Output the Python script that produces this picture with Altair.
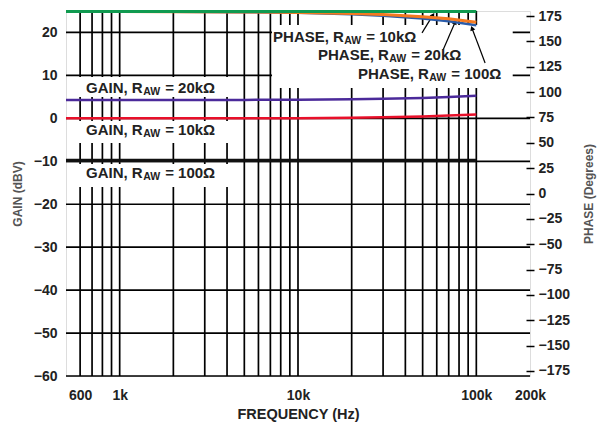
import altair as alt
import pandas as pd

# ---------------- data ----------------
freq_hz = [500, 1000, 2000, 5000, 10000, 20000, 30000, 50000, 70000, 100000]
gain_20k = [4.3, 4.3, 4.3, 4.3, 4.35, 4.45, 4.55, 4.75, 4.95, 5.25]
gain_10k = [0.0, 0.0, 0.0, 0.0, 0.05, 0.15, 0.25, 0.45, 0.65, 0.9]
gain_100 = [-9.8, -9.8, -9.8, -9.8, -9.8, -9.8, -9.8, -9.8, -9.8, -9.8]
phase_100 = [179.4, 179.4, 179.4, 179.4, 179.4, 179.4, 179.4, 179.4, 179.4, 179.4]
phase_10k = [179.4, 179.4, 179.3, 179.0, 178.6, 177.6, 176.5, 174.4, 172.3, 169.0]
phase_20k = [179.4, 179.4, 179.2, 178.8, 178.2, 176.8, 175.3, 172.5, 169.8, 166.0]

grid_freqs = [600, 700, 800, 900, 1000, 2000, 3000, 4000, 5000, 6000, 7000, 8000, 9000,
              10000, 20000, 30000, 40000, 50000, 60000, 70000, 80000, 90000, 100000]
gain_ticks = [-60, -50, -40, -30, -20, -10, 0, 10, 20]
phase_ticks = [-175, -150, -125, -100, -75, -50, -25, 0, 25, 50, 75, 100, 125, 150, 175]
x_label_values = [600, 1000, 10000, 100000, 200000]

# annotation boxes (white backgrounds behind labels), in data units
box_f1 = [540, 540, 540, 7150]
box_f2 = [4260, 4260, 4260, 160000]
box_g1 = [4.97, -5.74, -15.99, 7.07]
box_g2 = [9.63, -0.62, -10.63, 21.74]

gain_label_f = [647, 647, 647]
gain_label_g = [7.07, -2.71, -12.73]
gain_label_rest = ["= 20kΩ", "= 10kΩ", "= 100Ω"]

phase_label_f = [7245, 12950, 21700]
phase_label_g = [18.9, 14.75, 10.33]
phase_label_rest = ["= 10kΩ", "= 20kΩ", "= 100Ω"]

arrow_tail_f = [49600, 65100, 112000]
arrow_tail_g = [19.9, 15.9, 12.9]
arrow_tip_f = [57200, 76000, 94600]
arrow_tip_g = [24.1, 22.4, 21.0]
arrow_angle = [31, 23, 340]

FONT = "Liberation Sans"
TXT = "#222222"

# ---------------- scales / axes ----------------
xscale = alt.Scale(type="log", domain=[500, 200000], nice=False)
gscale = alt.Scale(domain=[-60, 25], nice=False, zero=False)
pscale = alt.Scale(domain=[-180, 180], nice=False, zero=False)

xaxis = alt.Axis(values=x_label_values,
                 labelExpr="datum.value < 1000 ? datum.value + '' : (datum.value / 1000) + 'k'",
                 ticks=False, tickSize=0, grid=False, domain=False,
                 labelFont=FONT, labelFontSize=14, labelFontWeight="bold", labelColor=TXT,
                 labelPadding=12, labelFlush=False, labelOverlap=False,
                 title="FREQUENCY (Hz)", titleFont=FONT, titleFontSize=14.5,
                 titleFontWeight="bold", titleColor=TXT, titlePadding=5)
gaxis = alt.Axis(values=gain_ticks, ticks=False, tickSize=0, grid=False, domain=False,
                 labelFont=FONT, labelFontSize=14, labelFontWeight="bold", labelColor=TXT,
                 labelPadding=9,
                 title="GAIN (dBV)", titleFont=FONT, titleFontSize=12,
                 titleFontWeight="bold", titleColor="#555555", titlePadding=9)
paxis = alt.Axis(orient="right", values=phase_ticks, ticks=True, tickSize=8, offset=-4,
                 tickColor="black", tickWidth=1.5, grid=False, domain=False,
                 labelFont=FONT, labelFontSize=14, labelFontWeight="bold", labelColor=TXT,
                 labelPadding=4,
                 title="PHASE (Degrees)", titleFont=FONT, titleFontSize=12,
                 titleFontWeight="bold", titleColor="#555555", titlePadding=14,
                 titleAngle=270, titleBaseline="top")

X = alt.X("f:Q", scale=xscale, axis=xaxis)
Y = alt.Y("g:Q", scale=gscale, axis=gaxis)
YP = alt.Y("p:Q", scale=pscale, axis=paxis)

# ---------------- gain-scale layers ----------------
vgrid = alt.Chart(pd.DataFrame({"f": grid_freqs})).mark_rule(
    color="black", strokeWidth=1.7).encode(x=X)
hgrid = alt.Chart(pd.DataFrame({"g": gain_ticks})).mark_rule(
    color="black", strokeWidth=1.7).encode(y=Y)

boxes = alt.Chart(pd.DataFrame({"f": box_f1, "f2": box_f2, "g": box_g1, "g2": box_g2})).mark_rect(
    color="white").encode(x=X, x2="f2:Q", y=Y, y2="g2:Q")


def gain_line(vals, color, width):
    df = pd.DataFrame({"f": freq_hz, "g": vals})
    return alt.Chart(df).mark_line(color=color, strokeWidth=width).encode(x=X, y=Y)


line_g20 = gain_line(gain_20k, "#4b2a9a", 2.5)
line_g10 = gain_line(gain_10k, "#e8102a", 2.5)
line_g100 = gain_line(gain_100, "#111111", 3.5)

arrow_rows = []
for i in range(len(arrow_tail_f)):
    arrow_rows.append({"id": i, "o": 0, "f": arrow_tail_f[i], "g": arrow_tail_g[i]})
    arrow_rows.append({"id": i, "o": 1, "f": arrow_tip_f[i], "g": arrow_tip_g[i]})
arrows = alt.Chart(pd.DataFrame(arrow_rows)).mark_line(color="black", strokeWidth=1.2).encode(
    x=X, y=Y, detail="id:N", order="o:Q")
heads = alt.Chart(pd.DataFrame({"f": arrow_tip_f, "g": arrow_tip_g, "ang": arrow_angle})).mark_point(
    shape="triangle-up", filled=True, size=28, color="black", opacity=1).encode(
    x=X, y=Y, angle=alt.Angle("ang:Q", scale=None))

W_GAINR = 56.7   # width of "GAIN, R" at 15px bold
W_PHASER = 70.8  # width of "PHASE, R" at 15px bold
W_SUB = 17.5     # width of "AW" at 10.5px bold


def label_layers(fs, gs, main, rest, wmain):
    df = pd.DataFrame({"f": fs, "g": gs, "main": [main] * len(fs), "sub": ["AW"] * len(fs), "rest": rest})
    base = alt.Chart(df)
    t1 = base.mark_text(align="left", baseline="middle", font=FONT, fontSize=15,
                        fontWeight="bold", color=TXT).encode(x=X, y=Y, text="main:N")
    t2 = base.mark_text(align="left", baseline="middle", font=FONT, fontSize=10.5,
                        fontWeight="bold", color=TXT, dx=wmain + 0.5, dy=4).encode(x=X, y=Y, text="sub:N")
    t3 = base.mark_text(align="left", baseline="middle", font=FONT, fontSize=15,
                        fontWeight="bold", color=TXT, dx=wmain + W_SUB + 5).encode(x=X, y=Y, text="rest:N")
    return [t1, t2, t3]


gain_texts = label_layers(gain_label_f, gain_label_g, "GAIN, R", gain_label_rest, W_GAINR)
phase_texts = label_layers(phase_label_f, phase_label_g, "PHASE, R", phase_label_rest, W_PHASER)

gain_layer = alt.layer(vgrid, hgrid, boxes, line_g20, line_g10, line_g100, arrows, heads,
                       *gain_texts, *phase_texts)

# ---------------- phase-scale layers ----------------


def phase_line(vals, color, width):
    df = pd.DataFrame({"f": freq_hz, "p": vals})
    return alt.Chart(df).mark_line(color=color, strokeWidth=width).encode(x=X, y=YP)


phase_layer = alt.layer(phase_line(phase_20k, "#2a5caa", 2.5),
                        phase_line(phase_10k, "#f47a20", 3),
                        phase_line(phase_100, "#109a50", 3))

chart = alt.layer(gain_layer, phase_layer).resolve_scale(y="independent").properties(
    width=464, height=365,
    autosize=alt.AutoSizeParams(type="none"),
    padding={"left": 58, "top": 3, "right": 78, "bottom": 52},
).configure_view(stroke="black", strokeWidth=1.5).configure(font=FONT, background="white")

chart.save("out.html", embed_options={"renderer": "svg", "actions": False})
